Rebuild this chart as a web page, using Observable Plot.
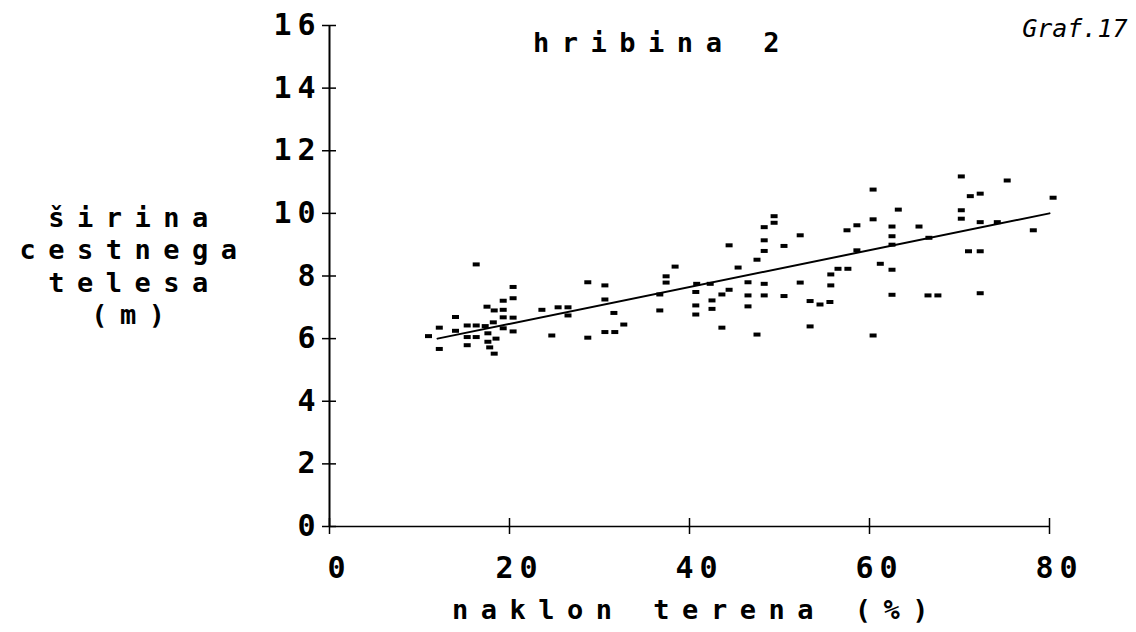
<!DOCTYPE html>
<html><head><meta charset="utf-8">
<script src="https://cdn.jsdelivr.net/npm/d3@7"></script>
<script src="https://cdn.jsdelivr.net/npm/@observablehq/plot@0.6"></script>
<style>body{margin:0;background:#fff}</style>
</head><body><div id="chart"></div>
<script>
// slope of terrain (%)
const slope = [11.0,12.2,12.2,14.0,14.0,15.3,15.3,15.3,16.3,16.3,16.3,17.3,17.5,17.6,17.6,17.8,18.2,18.3,18.3,19.3,19.3,19.3,19.3,20.4,20.4,20.4,20.4,18.5,
 23.6,24.7,25.4,26.5,26.5,28.7,28.7,30.6,30.6,30.6,31.7,31.6,32.7,36.7,36.7,37.4,37.4,38.4,40.7,40.7,40.7,40.8,
 42.3,42.5,42.5,43.6,43.6,44.4,44.4,45.4,46.5,46.5,46.5,47.5,47.5,48.3,48.3,48.3,48.3,48.3,49.4,49.4,50.5,50.5,52.3,52.3,53.4,53.4,54.5,55.6,55.7,55.7,56.5,57.6,57.5,58.6,58.6,60.4,60.4,60.4,61.2,
 62.5,62.5,62.5,62.5,62.5,63.2,65.5,66.6,66.5,67.6,70.2,70.2,70.2,71.2,72.3,72.3,71.0,72.3,72.3,74.2,75.3,78.2,80.4];
// road body width (m)
const width = [6.08,6.35,5.67,6.69,6.25,6.42,6.05,5.79,8.37,6.42,6.05,6.40,7.02,6.17,5.90,5.72,6.52,5.52,6.90,7.21,6.92,6.68,6.33,7.65,7.29,6.67,6.23,6.00,
 6.92,6.10,7.00,7.00,6.74,7.80,6.03,7.70,7.25,6.21,6.21,6.82,6.45,7.41,6.90,7.99,7.79,8.30,7.49,7.06,6.77,7.75,
 7.75,7.22,6.95,7.41,6.35,7.56,8.98,8.27,7.80,7.38,7.03,8.52,6.13,9.56,9.14,8.80,7.75,7.38,9.91,9.70,8.96,7.36,9.30,7.79,7.20,6.39,7.09,7.17,8.05,7.70,8.23,8.23,9.46,9.62,8.82,10.76,9.81,6.10,8.39,
 9.58,9.27,9.00,8.20,7.40,10.12,9.58,9.22,7.38,7.38,11.18,10.10,9.83,10.55,10.63,9.72,8.79,8.79,7.45,9.72,11.05,9.46,10.50];
// fitted line
const fitX = [12, 80];
const fitY = [6.0, 10.0];
const xTicks = [0, 20, 40, 60, 80];
const yTicks = [0, 2, 4, 6, 8, 10, 12, 14, 16];
const titleText = "hribina 2";
const yLabel = "širina\ncestnega\ntelesa\n(m)";
const xLabel = "naklon terena (%)";
const graf = "Graf.17";

const points = slope.map((x, i) => ({x, y: width[i]}));
const fit = fitX.map((x, i) => ({x, y: fitY[i]}));
const bar = {draw(ctx) { ctx.rect(-3.5, -2, 7, 4); }};
const mono = "'DejaVu Sans Mono', monospace";

const chart = Plot.plot({
  width: 1136, height: 632,
  marginLeft: 329, marginRight: 87, marginTop: 25, marginBottom: 106,
  x: {domain: [0, 80], label: null},
  y: {domain: [0, 16], label: null},
  style: {fontFamily: mono, background: "white", color: "black"},
  marks: [
    Plot.ruleX([0], {strokeWidth: 2}),
    Plot.ruleY([0], {strokeWidth: 1.5}),
    Plot.axisY(yTicks, {tickSize: 14, dx: 7, tickPadding: 1, fontSize: 30, fontWeight: "bold", strokeWidth: 1.5}),
    Plot.axisX(xTicks, {tickSize: 16, dy: -8, tickFormat: () => "", strokeWidth: 1.5}),
    Plot.axisX(xTicks, {tickSize: 0, tickPadding: 30, fontSize: 30, fontWeight: "bold", dx: 10}),
    Plot.line(fit, {x: "x", y: "y", strokeWidth: 2}),
    Plot.dot(points, {x: "x", y: "y", symbol: bar, fill: "black", stroke: "none"}),
    Plot.text([titleText], {text: d => d, frameAnchor: "top", dx: -27, dy: 7, fontSize: 27, fontWeight: "bold"}),
    Plot.text([yLabel], {text: d => d, frameAnchor: "left", textAnchor: "middle", dx: -195, dy: -11, fontSize: 27, fontWeight: "bold", lineHeight: 1.2}),
    Plot.text([xLabel], {text: d => d, frameAnchor: "bottom", dx: 7, dy: 92, fontSize: 27, fontWeight: "bold"}),
    Plot.text([graf], {text: d => d, frameAnchor: "top-right", textAnchor: "end", lineAnchor: "middle", dx: 78, dy: 3, fontSize: 25, fontStyle: "italic"})
  ]
});
document.getElementById("chart").appendChild(chart);
const svg = d3.select(chart);
svg.selectAll('g[aria-label="y-axis tick label"] text, g[aria-label="x-axis tick label"] text').style("letter-spacing", "6px");
const wide = [titleText, xLabel, yLabel.replace(/\n/g, "")];
svg.selectAll("text").each(function() {
  if (wide.includes(this.textContent)) {
    d3.select(this).style("letter-spacing", "12.5px");
    d3.select(this).selectAll("tspan").style("letter-spacing", "12.5px");
  }
});
</script>
</body></html>
